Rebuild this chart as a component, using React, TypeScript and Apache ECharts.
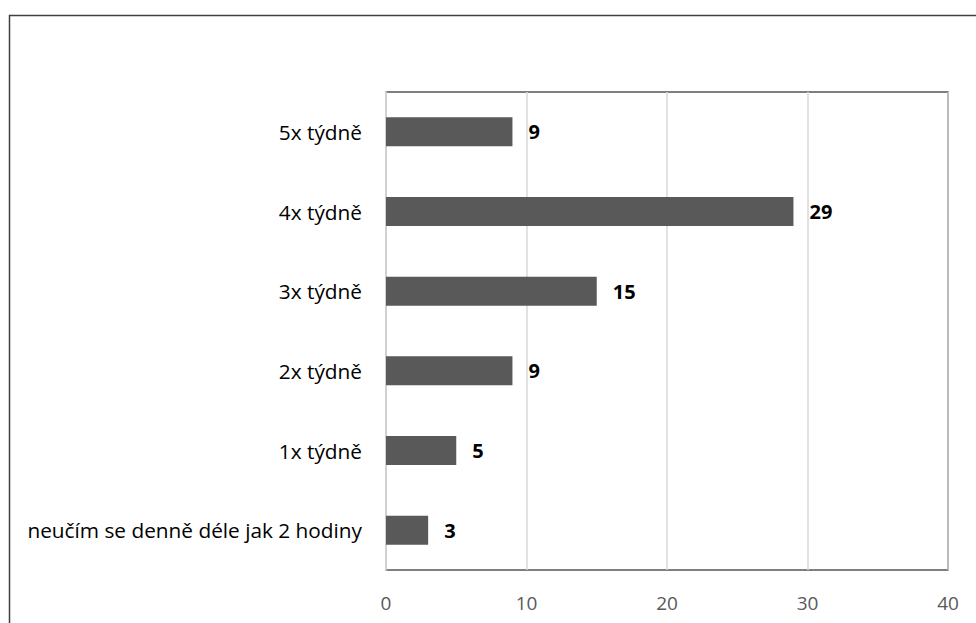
import React, { useEffect, useRef } from "react";
import * as echarts from "echarts";

const categories = [
  "neučím se denně déle jak 2 hodiny",
  "1x týdně",
  "2x týdně",
  "3x týdně",
  "4x týdně",
  "5x týdně",
];
const values = [3, 5, 9, 15, 29, 9];
const xTicks = { min: 0, max: 40, interval: 10 };

export default function App() {
  const ref = useRef<HTMLDivElement>(null);
  useEffect(() => {
    document.body.style.margin = "0";
    const chart = echarts.init(ref.current!, null, { renderer: "svg" });
    const font = "'Open Sans', sans-serif";
    chart.setOption({
      animation: false,
      backgroundColor: "#fff",
      graphic: [
        {
          type: "rect",
          shape: { x: 9.5, y: 15.5, width: 975, height: 700 },
          style: { fill: "none", stroke: "#404040", lineWidth: 1.5 },
          silent: true,
        },
      ],
      grid: {
        left: 386,
        top: 92,
        right: 28,
        bottom: 53,
        show: true,
        borderColor: "#000",
        borderWidth: 1.2,
        backgroundColor: "transparent",
      },
      xAxis: {
        type: "value",
        min: xTicks.min,
        max: xTicks.max,
        interval: xTicks.interval,
        axisLine: { show: false },
        axisTick: { show: false },
        splitLine: { show: true, lineStyle: { color: "#d9d9d9", width: 1.5 } },
        axisLabel: { color: "#595959", fontSize: 19, fontFamily: font, margin: 23 },
      },
      yAxis: {
        type: "category",
        data: categories,
        axisLine: { show: true, lineStyle: { color: "#d9d9d9", width: 1.5 } },
        axisTick: { show: false },
        axisLabel: { color: "#000", fontSize: 20.8, fontFamily: font, margin: 24 },
      },
      series: [
        {
          type: "bar",
          data: values,
          barWidth: 29,
          itemStyle: { color: "#595959" },
          label: {
            show: true,
            position: "right",
            distance: 16,
            color: "#000",
            fontWeight: "bold",
            fontSize: 20,
            fontFamily: font,
          },
        },
      ],
    });
    return () => chart.dispose();
  }, []);
  return <div ref={ref} style={{ width: 976, height: 623 }} />;
}
